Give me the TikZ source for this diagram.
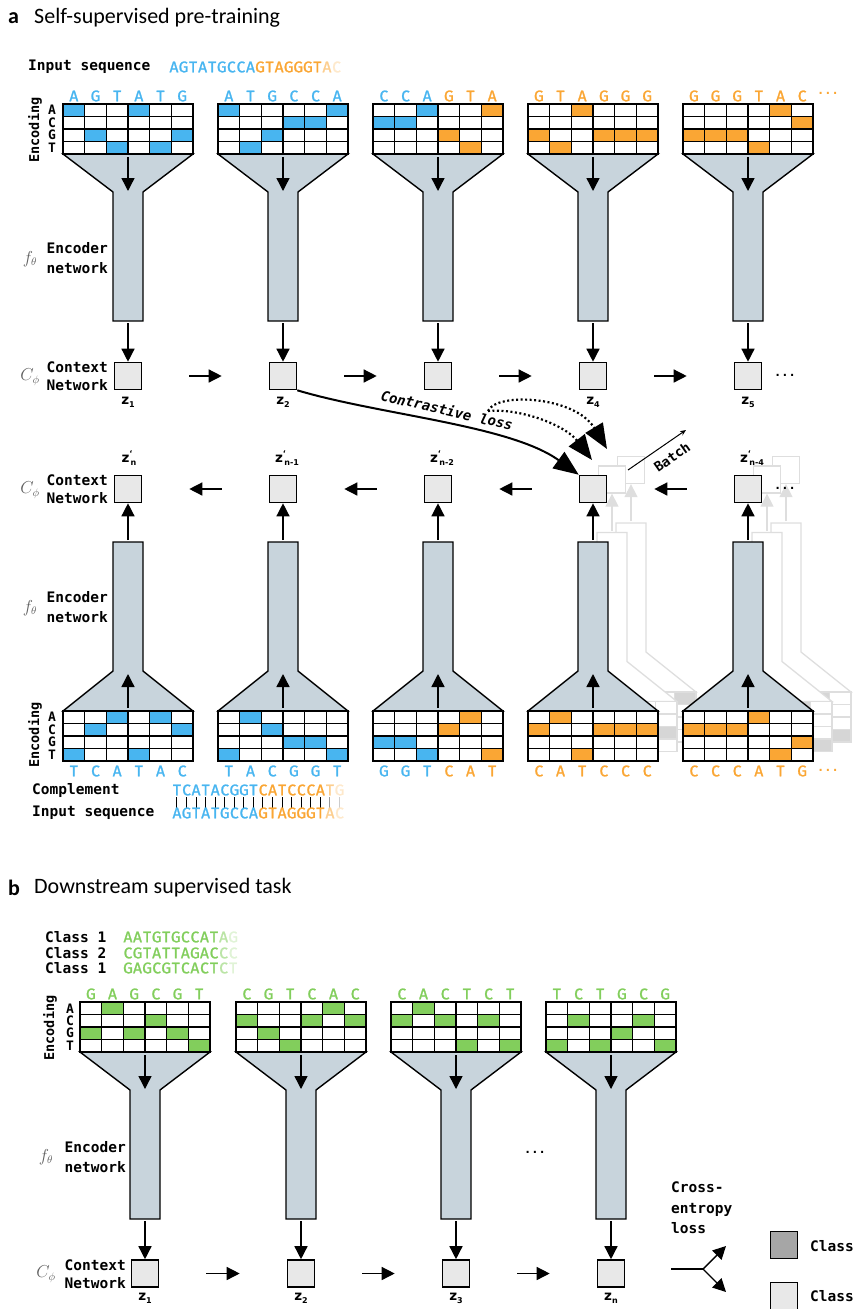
\documentclass[tikz,border=0pt]{standalone}
\usepackage{fontspec}
\usetikzlibrary{arrows.meta}
\newfontfamily\monof{DejaVu Sans Mono}
\newfontfamily\seqf{Fira Sans}[FakeBold=1.3]
\newfontfamily\titlef{Carlito}
\newfontfamily\zf{DejaVu Sans}
\definecolor{cb}{RGB}{72,181,240}
\definecolor{co}{RGB}{250,166,52}
\definecolor{cg}{RGB}{130,206,92}
\definecolor{fun}{RGB}{200,212,220}
\definecolor{boxf}{RGB}{232,232,232}
\definecolor{ghostc}{RGB}{222,222,222}
\definecolor{ghostf}{RGB}{214,214,214}
\definecolor{darkbox}{RGB}{166,166,166}
\definecolor{mathg}{RGB}{95,95,95}

\newcommand\spaced[1]{\spacedi#1\relax}
\def\spacedi#1{\ifx#1\relax\else\makebox[9.56pt]{#1}\expandafter\spacedi\fi}

% #1 name, #2 left, #3 top, #4 letter y, #5 cells col/row/letter/colour
\newcommand\dnagrid[5]{%
  \fill[white] (#2,#3) rectangle ++(130,50);
  \foreach \ci/\ri/\li/\cc in {#5}{
    \fill[\cc] ({#2+\ci*21.667},{#3+\ri*12.5}) rectangle ++(21.667,12.5);
    \node[lett,text=\cc] (#1-\ci) at ({#2+(\ci+0.5)*21.667},#4) {\li};
  }
  \foreach \i in {0,...,6} \draw[gl] ({#2+\i*21.667},#3) -- ++(0,50);
  \foreach \j in {0,...,4} \draw[gl] (#2,{#3+\j*12.5}) -- ++(130,0);
}
% #1 left, #2 top, #3 cells col/row
\newcommand\ghostgrid[3]{%
  \fill[white] (#1,#2) rectangle ++(130,50);
  \foreach \ci/\ri in {#3} \fill[ghostf] ({#1+\ci*21.667},{#2+\ri*12.5}) rectangle ++(21.667,12.5);
  \foreach \i in {0,...,6} \draw[ggl] ({#1+\i*21.667},#2) -- ++(0,50);
  \foreach \j in {0,...,4} \draw[ggl] (#1,{#2+\j*12.5}) -- ++(130,0);
}
\newcommand\fundown[3]{\filldraw[#3] ({#1-65},#2) -- ({#1-15},{#2+38}) -- ({#1-15},{#2+167}) -- ({#1+15},{#2+167}) -- ({#1+15},{#2+38}) -- ({#1+65},#2) -- cycle;}
\newcommand\funup[3]{\filldraw[#3] ({#1-65},#2) -- ({#1-15},{#2-40}) -- ({#1-15},{#2-169}) -- ({#1+15},{#2-169}) -- ({#1+15},{#2-40}) -- ({#1+65},#2) -- cycle;}
% ghost column: #1 name, #2 cx, #3 left, #4 grid top, #5 box y, #6 cells
\newcommand\ghostcol[6]{%
  \funup{#2}{#4}{ghostfun}
  \ghostgrid{#3}{#4}{#6}
  \node[gctx] (#1) at (#2,#5) {};
  \coordinate (#1-s) at (#2,{#4-171});
  \draw[garr] (#1-s) -- (#1);
}
\newcommand\zs[1]{z\raisebox{-3pt}{\fontsize{8}{8}\selectfont #1}}
\newcommand\zp[1]{z\rlap{\raisebox{5.5pt}{\fontsize{8}{8}\selectfont\textquoteleft}}\raisebox{-3pt}{\fontsize{8}{8}\selectfont\,#1}}

\begin{document}
\begin{tikzpicture}[x=1pt,y=-1pt,
  gl/.style={line width=1.4pt, line cap=rect},
  ggl/.style={line width=1.2pt, draw=ghostc, line cap=rect},
  funnel/.style={fill=fun, draw=black, line width=1.4pt, line join=miter},
  ghostfun/.style={fill=white, draw=ghostc, line width=1.3pt},
  ctx/.style={draw=black, fill=boxf, line width=1.6pt, minimum size=27pt, inner sep=0pt},
  gctx/.style={draw=ghostc, fill=white, line width=1.3pt, minimum size=27pt, inner sep=0pt},
  arr/.style={line width=1.4pt, -{Triangle[width=13pt,length=13pt]}},
  garr/.style={line width=1.3pt, draw=ghostc, -{Triangle[width=13pt,length=13pt]}},
  harr/.style={arr, shorten <=47pt, shorten >=47pt},
  lett/.style={inner sep=0pt, font=\seqf\fontsize{15.5}{17}\selectfont},
  seqtext/.style={inner sep=0pt, anchor=west, font=\seqf\fontsize{15.5}{17}\selectfont},
  mono/.style={inner sep=0pt, font=\monof\bfseries\fontsize{14.5}{18}\selectfont},
  monoenc/.style={inner sep=0pt, font=\monof\bfseries\fontsize{14.5}{19.5}\selectfont, align=right, anchor=east},
  monoctx/.style={inner sep=0pt, font=\monof\bfseries\fontsize{14.5}{18}\selectfont, align=right, anchor=east},
  rowl/.style={inner sep=0pt, font=\monof\bfseries\fontsize{13}{13}\selectfont},
  encl/.style={inner sep=0pt, rotate=90, font=\monof\bfseries\fontsize{13.5}{14}\selectfont},
  mathl/.style={inner sep=0pt, text=mathg, font=\fontsize{16}{18}\selectfont},
  zl/.style={inner sep=0pt, font=\zf\bfseries\fontsize{13.5}{14}\selectfont},
  title/.style={inner sep=0pt, anchor=west, font=\titlef\fontsize{22}{26}\selectfont},
  dots/.style={inner sep=0pt, font=\monof\bfseries\fontsize{12}{12}\selectfont},
]
\useasboundingbox (0,0) rectangle (853,1309);

%================ PART a =================
\node[title] (ta) at (8,18) {\bfseries a};
\node[title] (tat) at (34,18) {Self-supervised pre-training};

\node[mono, anchor=west] (inlab) at (28,67) {Input sequence};
\node[seqtext] (inseq) at (169,67) {\textcolor{cb}{\spaced{AGTATGCCA}}\textcolor{co}{\spaced{GTAGGGT}}\textcolor{co!55!white}{\spaced{A}}\textcolor{co!25!white}{\spaced{C}}};

\node[encl] (enct) at (35,130) {Encoding};
\foreach \i/\L in {0/A,1/C,2/G,3/T} \node[rowl] (rt-\i) at (52,{110.25+\i*12.5}) {\L};

% top columns
\fundown{128}{154}{funnel}
\fundown{283}{154}{funnel}
\fundown{438}{154}{funnel}
\fundown{593}{154}{funnel}
\fundown{748}{154}{funnel}
\dnagrid{g1}{63}{104}{96}{0/0/A/cb,1/2/G/cb,2/3/T/cb,3/0/A/cb,4/3/T/cb,5/2/G/cb}
\dnagrid{g2}{218}{104}{96}{0/0/A/cb,1/3/T/cb,2/2/G/cb,3/1/C/cb,4/1/C/cb,5/0/A/cb}
\dnagrid{g3}{373}{104}{96}{0/1/C/cb,1/1/C/cb,2/0/A/cb,3/2/G/co,4/3/T/co,5/0/A/co}
\dnagrid{g4}{528}{104}{96}{0/2/G/co,1/3/T/co,2/0/A/co,3/2/G/co,4/2/G/co,5/2/G/co}
\dnagrid{g5}{683}{104}{96}{0/2/G/co,1/2/G/co,2/2/G/co,3/3/T/co,4/0/A/co,5/1/C/co}
\node[dots, text=co] (gd) at (828,93) {...};

\foreach \n/\x in {1/128,2/283,3/438,4/593,5/748}{
  \coordinate (fa\n) at (\x,157);
  \coordinate (fb\n) at (\x,191);
  \draw[arr] (fa\n) -- (fb\n);
  \coordinate (s\n) at (\x,323);
  \node[ctx] (t\n) at (\x,376) {};
  \draw[arr] (s\n) -- (t\n);
}
\draw[harr] (t1) -- (t2);
\draw[harr] (t2) -- (t3);
\draw[harr] (t3) -- (t4);
\draw[harr] (t4) -- (t5);
\node[dots] (td) at (785,375) {...};

\node[monoenc] (enclab-t) at (108,258) {Encoder\\network};
\node[mathl] (fth-t) at (30,259) {$f_\theta$};
\node[monoctx] (ctxlab-t) at (108,376) {Context\\Network};
\node[mathl] (cph-t) at (30,377) {$C_\phi$};

\node[zl] (zt1) at (128,402) {\zs{1}};
\node[zl] (zt2) at (283,402) {\zs{2}};
\node[zl] (zt4) at (593,402) {\zs{4}};
\node[zl] (zt5) at (748,402) {\zs{5}};

%================ lower half of a =================
% ghosts
\ghostcol{gh42}{631}{566}{692}{470}{0/1,2/2,3/1,5/0}
\ghostcol{gh41}{612}{547}{701.5}{479.5}{1/1,2/0,4/3,5/2}
\ghostcol{gh52}{786}{721}{692}{470}{0/2,2/1,4/0,5/3}
\ghostcol{gh51}{767}{702}{701.5}{479.5}{1/2,3/1,4/0,5/3}

\funup{128}{711}{funnel}
\funup{283}{711}{funnel}
\funup{438}{711}{funnel}
\funup{593}{711}{funnel}
\funup{748}{711}{funnel}
\dnagrid{h1}{63}{711}{771}{0/3/T/cb,1/1/C/cb,2/0/A/cb,3/3/T/cb,4/0/A/cb,5/1/C/cb}
\dnagrid{h2}{218}{711}{771}{0/3/T/cb,1/0/A/cb,2/1/C/cb,3/2/G/cb,4/2/G/cb,5/3/T/cb}
\dnagrid{h3}{373}{711}{771}{0/2/G/cb,1/2/G/cb,2/3/T/cb,3/1/C/co,4/0/A/co,5/3/T/co}
\dnagrid{h4}{528}{711}{771}{0/1/C/co,1/0/A/co,2/3/T/co,3/1/C/co,4/1/C/co,5/1/C/co}
\dnagrid{h5}{683}{711}{771}{0/1/C/co,1/1/C/co,2/1/C/co,3/0/A/co,4/3/T/co,5/2/G/co}
\node[dots, text=co] (hd) at (828,770) {...};

\foreach \n/\x in {1/128,2/283,3/438,4/593,5/748}{
  \coordinate (la\n) at (\x,708);
  \coordinate (lb\n) at (\x,674);
  \draw[arr] (la\n) -- (lb\n);
  \coordinate (ls\n) at (\x,540);
  \node[ctx] (l\n) at (\x,489) {};
  \draw[arr] (ls\n) -- (l\n);
}
\draw[harr] (l2) -- (l1);
\draw[harr] (l3) -- (l2);
\draw[harr] (l4) -- (l3);
\draw[harr] (l5) -- (l4);
\node[dots] (ld) at (785,488) {...};

\node[encl] (encl) at (35,735) {Encoding};
\foreach \i/\L in {0/A,1/C,2/G,3/T} \node[rowl] (rl-\i) at (52,{717.25+\i*12.5}) {\L};

\node[monoenc] (enclab-l) at (108,607) {Encoder\\network};
\node[mathl] (fth-l) at (30,608) {$f_\theta$};
\node[monoctx] (ctxlab-l) at (108,489) {Context\\Network};
\node[mathl] (cph-l) at (30,490) {$C_\phi$};

\node[zl] (zl1) at (129,458) {\zp{n}};
\node[zl] (zl2) at (287,458) {\zp{n-1}};
\node[zl] (zl3) at (442,458) {\zp{n-2}};
\node[zl] (zl5) at (752,458) {\zp{n-4}};

% complement / input
\node[mono, anchor=west] (complab) at (32,790) {Complement};
\node[seqtext] (compseq) at (172,790) {\textcolor{cb}{\spaced{TCATACGGT}}\textcolor{co}{\spaced{CATCCCA}}\textcolor{co!55!white}{\spaced{T}}\textcolor{co!25!white}{\spaced{G}}};
\foreach \i in {0,...,15} \draw[line width=0.8pt] ({172+(\i+0.5)*9.56},797) -- ++(0,11);
\draw[line width=0.8pt, black!40] ({172+16.5*9.56},797) -- ++(0,11);
\draw[line width=0.8pt, black!20] ({172+17.5*9.56},797) -- ++(0,11);
\node[mono, anchor=west] (inlab2) at (32,813) {Input sequence};
\node[seqtext] (inseq2) at (172,813) {\textcolor{cb}{\spaced{AGTATGCCA}}\textcolor{co}{\spaced{GTAGGGT}}\textcolor{co!55!white}{\spaced{A}}\textcolor{co!25!white}{\spaced{C}}};

% contrastive loss
\draw[line width=2pt, -{Triangle[width=20pt,length=25pt]}] (t2.south east) .. controls (380,415) and (510,425) .. (l4.north west);
\coordinate (dst) at (488,411);
\coordinate (dt1) at (592,460);
\coordinate (dt2) at (607,449);
\draw[line width=2.2pt, dash pattern=on 2pt off 2.5pt, -{Triangle[width=20pt,length=25pt]}] (dst) .. controls (520,408) and (565,425) .. (dt1);
\draw[line width=2.2pt, dash pattern=on 2pt off 2.5pt, -{Triangle[width=20pt,length=25pt]}] (dst) .. controls (496,392) and (575,396) .. (dt2);
\node[inner sep=0pt, rotate=-13, font=\monof\bfseries\itshape\fontsize{14}{16}\selectfont] (closs) at (447,410) {Contrastive loss};

% batch
\coordinate (bs) at (628,470);
\coordinate (be) at (686,430);
\draw[line width=1pt, -{Stealth[length=6pt,width=5pt]}] (bs) -- (be);
\node[inner sep=0pt, rotate=35, font=\monof\bfseries\fontsize{13.5}{14}\selectfont] (batch) at (672,457) {Batch};

%================ PART b =================
\node[title] (tb) at (8,888) {\bfseries b};
\node[title] (tbt) at (34,888) {Downstream supervised task};

\node[mono, anchor=west] (c1) at (45,937) {Class 1};
\node[mono, anchor=west] (c2) at (45,953) {Class 2};
\node[mono, anchor=west] (c3) at (45,968) {Class 1};
\node[seqtext] (cs1) at (123,937) {\textcolor{cg}{\spaced{AATGTGCCAT}}\textcolor{cg!55!white}{\spaced{A}}\textcolor{cg!25!white}{\spaced{G}}};
\node[seqtext] (cs2) at (123,953) {\textcolor{cg}{\spaced{CGTATTAGAC}}\textcolor{cg!55!white}{\spaced{C}}\textcolor{cg!25!white}{\spaced{C}}};
\node[seqtext] (cs3) at (123,968) {\textcolor{cg}{\spaced{GAGCGTCACT}}\textcolor{cg!55!white}{\spaced{C}}\textcolor{cg!25!white}{\spaced{T}}};

\node[encl] (encb) at (50,1028) {Encoding};
\foreach \i/\L in {0/A,1/C,2/G,3/T} \node[rowl] (rb-\i) at (70,{1008.25+\i*12.5}) {\L};

\fundown{145}{1052}{funnel}
\fundown{301}{1052}{funnel}
\fundown{456}{1052}{funnel}
\fundown{611}{1052}{funnel}
\dnagrid{b1}{80}{1002}{994}{0/2/G/cg,1/0/A/cg,2/2/G/cg,3/1/C/cg,4/2/G/cg,5/3/T/cg}
\dnagrid{b2}{236}{1002}{994}{0/1/C/cg,1/2/G/cg,2/3/T/cg,3/1/C/cg,4/0/A/cg,5/1/C/cg}
\dnagrid{b3}{391}{1002}{994}{0/1/C/cg,1/0/A/cg,2/1/C/cg,3/3/T/cg,4/1/C/cg,5/3/T/cg}
\dnagrid{b4}{546}{1002}{994}{0/3/T/cg,1/1/C/cg,2/3/T/cg,3/2/G/cg,4/1/C/cg,5/3/G/cg}

\foreach \n/\x in {1/145,2/301,3/456,4/611}{
  \coordinate (ba\n) at (\x,1055);
  \coordinate (bb\n) at (\x,1089);
  \draw[arr] (ba\n) -- (bb\n);
  \coordinate (bs\n) at (\x,1221);
  \node[ctx] (p\n) at (\x,1273.5) {};
  \draw[arr] (bs\n) -- (p\n);
}
\draw[harr] (p1) -- (p2);
\draw[harr] (p2) -- (p3);
\draw[harr] (p3) -- (p4);
\node[dots] (bd) at (535,1152) {...};

\node[monoenc] (enclab-b) at (126,1157) {Encoder\\network};
\node[mathl] (fth-b) at (46,1157) {$f_\theta$};
\node[monoctx] (ctxlab-b) at (126,1274) {Context\\Network};
\node[mathl] (cph-b) at (46,1274) {$C_\phi$};

\node[zl] (zb1) at (145,1298) {\zs{1}};
\node[zl] (zb2) at (301,1298) {\zs{2}};
\node[zl] (zb3) at (456,1298) {\zs{3}};
\node[zl] (zb4) at (611,1298) {\zs{n}};

% cross entropy
\node[mono, anchor=west, align=left, font=\monof\bfseries\fontsize{14.5}{20.5}\selectfont] (cel) at (671,1208) {Cross-\\entropy\\loss};
\coordinate (fs) at (671,1269);
\coordinate (fj) at (703,1269);
\coordinate (fu) at (726,1246);
\coordinate (fd) at (726,1292);
\draw[line width=1.4pt] (fs) -- (fj);
\draw[arr] (fj) -- (fu);
\draw[arr] (fj) -- (fd);

\node[ctx, fill=darkbox] (leg1) at (784,1245) {};
\node[ctx] (leg2) at (784,1296) {};
\node[mono, anchor=west] (leg1t) at (810,1246) {Class};
\node[mono, anchor=west] (leg2t) at (810,1296) {Class};
\end{tikzpicture}
\end{document}
